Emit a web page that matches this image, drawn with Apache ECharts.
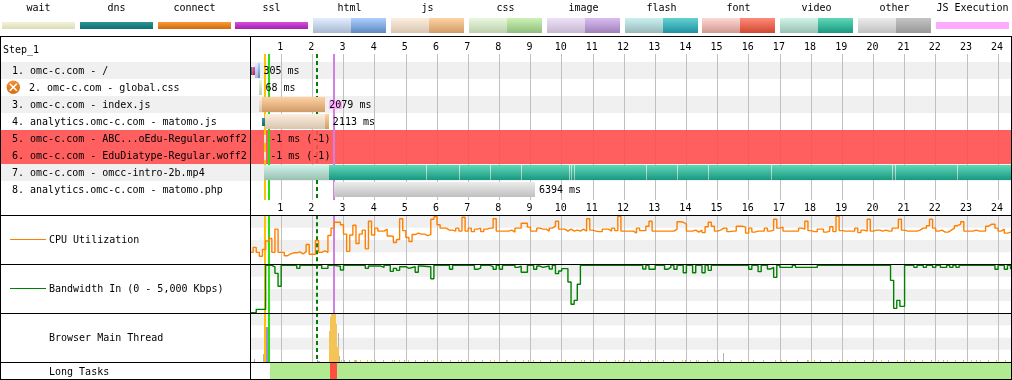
<!DOCTYPE html>
<html>
<head>
<meta charset="utf-8">
<title>Waterfall</title>
<style>
	html, body { margin: 0; padding: 0; background: #fff; }
	#chart { width: 1012px; height: 380px; }
</style>
<script src="https://cdn.jsdelivr.net/npm/echarts@6/dist/echarts.min.js"></script>
</head>
<body>
<div id="chart"></div>
<script>
const legendNames = [ 'wait', 'dns', 'connect', 'ssl', 'html', 'js', 'css', 'image', 'flash', 'font', 'video', 'other', 'JS Execution' ];
const rowLabels = [
	'1. omc-c.com - /',
	'2. omc-c.com - global.css',
	'3. omc-c.com - index.js',
	'4. analytics.omc-c.com - matomo.js',
	'5. omc-c.com - ABC...oEdu-Regular.woff2',
	'6. omc-c.com - EduDiatype-Regular.woff2',
	'7. omc-c.com - omcc-intro-2b.mp4',
	'8. analytics.omc-c.com - matomo.php'
];
const durationLabels = [ '305 ms', '68 ms', '2079 ms', '2113 ms', '-1 ms (-1)', '-1 ms (-1)', '', '6394 ms' ];
const failedRows = [ 4, 5 ];
const iconRows = [ 1 ];

// row, start (s), end (s), kind
const waterfallSegments = [
	[ 0, 0.03, 0.05, 'dns' ], [ 0, 0.05, 0.10, 'connect' ], [ 0, 0.10, 0.16, 'ssl' ],
	[ 0, 0.16, 0.27, 'htmlLight' ], [ 0, 0.27, 0.305, 'htmlDark' ],
	[ 1, 0.30, 0.37, 'cssLight' ],
	[ 2, 0.29, 0.38, 'jsLight' ], [ 2, 0.38, 2.415, 'jsDark' ], [ 2, 2.52, 2.95, 'jsExec' ],
	[ 3, 0.38, 0.47, 'dns' ], [ 3, 0.47, 2.415, 'jsLight' ], [ 3, 2.415, 2.53, 'jsDark' ],
	[ 4, 0.45, 0.52, 'wait' ],
	[ 5, 0.45, 0.52, 'wait' ],
	[ 6, 0.45, 2.53, 'videoLight' ], [ 6, 2.53, 24.42, 'videoDark' ],
	[ 7, 2.70, 9.14, 'otherLight' ]
];
const videoGapTimes = [ 5.66, 6.69, 7.69, 8.68, 10.22, 10.30, 10.39, 12.69, 13.69, 14.68, 16.7, 20.59, 20.68, 22.69 ];

// start render, dom interactive, dom complete, page load
const eventTimes = [ 0.46, 0.58, 2.12, 2.665 ];

// one sample every 100 ms
const cpuValues = [
	25, 35, 25, 17, 31, 48, 53, 25, 72, 25, 25, 18, 22, 24, 24, 26, 22, 26, 41, 21,
	21, 49, 25, 28, 25, 59, 74, 86, 86, 81, 62, 27, 60, 80, 43, 62, 70, 32, 88, 60,
	74, 68, 68, 72, 58, 57, 45, 51, 93, 69, 55, 47, 61, 64, 62, 62, 59, 61, 92, 97,
	81, 74, 74, 70, 70, 68, 74, 68, 96, 68, 74, 67, 72, 74, 67, 72, 74, 74, 93, 68,
	68, 68, 68, 70, 66, 74, 74, 84, 84, 76, 68, 68, 74, 72, 72, 68, 74, 78, 88, 72,
	72, 68, 72, 68, 70, 68, 72, 68, 93, 70, 68, 67, 67, 72, 72, 68, 74, 69, 98, 68,
	68, 68, 68, 64, 74, 69, 69, 78, 88, 68, 68, 68, 68, 68, 68, 68, 72, 87, 86, 82,
	68, 68, 70, 66, 70, 65, 77, 86, 78, 68, 70, 74, 74, 67, 68, 68, 78, 78, 76, 64,
	74, 66, 68, 68, 68, 74, 68, 70, 92, 74, 76, 68, 68, 68, 68, 68, 74, 72, 88, 69,
	67, 67, 72, 72, 66, 68, 77, 67, 98, 69, 68, 68, 68, 68, 74, 65, 70, 68, 92, 68,
	70, 70, 68, 70, 68, 68, 74, 74, 92, 70, 68, 68, 68, 68, 70, 74, 74, 79, 92, 74,
	68, 70, 66, 66, 70, 74, 79, 82, 87, 68, 68, 68, 70, 68, 68, 68, 78, 82, 82, 74,
	68, 72, 64, 66
];
const cpuSampleSeconds = 0.1;

// time (s) a new level starts, kbps
const bandwidthSteps = [
	[ 0, 30 ], [ 0.2, 380 ], [ 0.5, 4930 ], [ 0.7, 4760 ], [ 0.8, 4100 ], [ 0.9, 2760 ], [ 1.0, 4930 ],
	[ 1.5, 4620 ], [ 1.6, 4930 ], [ 2.3, 4620 ], [ 2.5, 4930 ], [ 2.7, 4830 ], [ 2.9, 4450 ], [ 3.0, 4930 ],
	[ 3.7, 4620 ], [ 3.8, 4860 ], [ 4.2, 4720 ], [ 4.3, 4930 ], [ 4.5, 4310 ], [ 4.6, 4620 ], [ 4.7, 4410 ],
	[ 4.8, 4790 ], [ 5.0, 4620 ], [ 5.1, 4790 ], [ 5.3, 4210 ], [ 5.4, 4860 ], [ 5.5, 4790 ], [ 5.8, 3550 ],
	[ 5.9, 4930 ], [ 6.4, 4520 ], [ 6.5, 4930 ], [ 7.2, 4520 ], [ 7.3, 4650 ], [ 7.4, 4930 ], [ 7.7, 4790 ],
	[ 7.8, 4520 ], [ 7.9, 4930 ], [ 8.0, 4520 ], [ 8.1, 4930 ], [ 8.5, 4720 ], [ 8.6, 4860 ], [ 8.7, 4210 ],
	[ 8.9, 4930 ], [ 9.1, 4520 ], [ 9.2, 4860 ], [ 9.3, 4720 ], [ 9.4, 4860 ], [ 9.6, 4550 ], [ 9.7, 4930 ],
	[ 9.8, 4070 ], [ 9.9, 4350 ], [ 10.0, 4590 ], [ 10.2, 3210 ], [ 10.3, 900 ], [ 10.4, 1310 ], [ 10.5, 2970 ],
	[ 10.6, 4930 ], [ 12.6, 4550 ], [ 12.7, 4930 ], [ 12.8, 4520 ], [ 13.0, 4930 ], [ 13.3, 4520 ], [ 13.4, 4720 ],
	[ 13.5, 4930 ], [ 13.6, 4520 ], [ 13.7, 4930 ], [ 13.9, 4170 ], [ 14.0, 4930 ], [ 14.2, 4170 ], [ 14.3, 4930 ],
	[ 14.5, 4170 ], [ 14.6, 4930 ], [ 14.7, 4410 ], [ 14.8, 4930 ], [ 16.0, 4520 ], [ 16.1, 4930 ], [ 16.3, 4280 ],
	[ 16.4, 4930 ], [ 16.6, 4550 ], [ 16.7, 4720 ], [ 16.8, 3690 ], [ 16.9, 4930 ], [ 17.0, 4720 ], [ 17.4, 4930 ],
	[ 17.5, 4720 ], [ 18.2, 4930 ], [ 20.55, 3380 ], [ 20.65, 480 ], [ 20.75, 1310 ], [ 20.85, 690 ], [ 21.0, 4930 ],
	[ 21.3, 4720 ], [ 21.4, 4930 ], [ 21.6, 4720 ], [ 21.7, 4930 ], [ 21.9, 4720 ], [ 22.0, 4930 ], [ 22.15, 4720 ],
	[ 22.35, 4930 ], [ 22.45, 4720 ], [ 22.55, 4930 ], [ 22.65, 4720 ], [ 22.75, 4930 ], [ 23.9, 4520 ], [ 24.0, 4930 ],
	[ 24.2, 4520 ], [ 24.3, 4930 ], [ 24.4, 4520 ]
];

// main thread, time (s), percent
const mainScripting = [
	[ 2.55, 63 ], [ 2.58, 92 ], [ 2.61, 99 ], [ 2.64, 100 ], [ 2.67, 100 ], [ 2.71, 100 ], [ 2.74, 100 ],
	[ 2.77, 77 ], [ 2.80, 31 ], [ 2.83, 30 ]
];
const mainScriptingTicks = [
	2.93, 3.34, 3.42, 3.53, 3.76, 3.89, 4.04, 4.56, 4.81, 5.08, 5.61, 5.88, 6.15, 6.68, 6.95, 7.21, 7.72, 7.85, 8.0, 8.26,
	8.53, 8.79, 9.08, 9.32, 9.86, 10.13, 10.4, 10.64, 10.93, 11.2, 11.44, 11.71, 11.82, 11.98, 12.27, 12.78, 13.06, 13.6,
	13.86, 14.13, 14.38, 14.91, 15.76, 16.0, 17.05, 17.21, 17.93, 18.11, 18.91, 19.18, 19.44, 19.96, 20.25, 20.78, 21.05,
	21.32, 21.56, 22.09, 22.38, 22.63, 22.9, 23.16, 23.43, 23.96, 24.23
];
const mainLayout = [ [ 0.16, 3 ], [ 0.529, 71 ], [ 0.561, 71 ], [ 2.15, 5 ] ];
const mainOther = [ [ 0.433, 16 ], [ 2.19, 3 ], [ 2.22, 3 ], [ 2.83, 29 ], [ 2.87, 12 ], [ 15.19, 18 ] ];
const mainOtherTicks = [
	0.16, 3.02, 3.19, 3.38, 4.27, 4.62, 4.97, 5.32, 5.69, 6.03, 6.42, 6.79, 7.47, 8.24, 8.93, 9.63, 10.73, 12.17, 12.52,
	12.9, 13.25, 13.97, 14.32, 14.67, 15.04, 15.42, 16.14, 16.49, 16.85, 17.57, 17.87, 18.29, 18.65, 19.73, 20.1, 20.49,
	21.19, 21.87, 22.26, 22.88, 23.32, 23.7
];
const mainTickPercent = 4;

// start (s), end (s), blocking
const longTasks = [ [ 0.64, 2.57, 0 ], [ 2.57, 2.79, 1 ], [ 2.79, 24.42, 0 ] ];

const panelLabels = [ 'CPU Utilization', 'Bandwidth In (0 - 5,000 Kbps)', 'Browser Main Thread', 'Long Tasks' ];

const FONT = '10px "DejaVu Sans Mono", monospace';
const TIME_MAX = 761 / 31.17;
const ROW_HEIGHT = 17;

const gradient = function ( top, bottom ) {
	return new echarts.graphic.LinearGradient( 0, 0, 0, 1, [
		{ offset: 0, color: top },
		{ offset: 1, color: bottom }
	] );
};

const kindColors = {
	wait: [ '#f2f2da', '#dcdcb8' ],
	dns: [ '#2c9494', '#0f6e70' ],
	connect: [ '#fa9a3a', '#d06a0a' ],
	ssl: [ '#d650dc', '#a422ac' ],
	htmlLight: [ '#e2eeff', '#a8b8d0' ],
	htmlDark: [ '#acd0ff', '#6088c0' ],
	jsLight: [ '#fdeede', '#d8c4b0' ],
	jsDark: [ '#ffd2a4', '#d09c68' ],
	cssLight: [ '#eaf8de', '#bccfae' ],
	cssDark: [ '#ccf2b4', '#8fbe7e' ],
	imageLight: [ '#eee2fa', '#c6b6d0' ],
	imageDark: [ '#dabcf2', '#a080b8' ],
	flashLight: [ '#caf2f2', '#98b8b8' ],
	flashDark: [ '#62d2d2', '#2090a0' ],
	fontLight: [ '#ffd8d2', '#d09890' ],
	fontDark: [ '#ff8a7a', '#d04830' ],
	videoLight: [ '#cff4ea', '#98c0b0' ],
	videoDark: [ '#60d8b8', '#189880' ],
	otherLight: [ '#ececec', '#c0c0c0' ],
	otherDark: [ '#c4c4c4', '#989898' ],
	jsExec: [ '#ffaaff', '#ffaaff' ]
};
const thinKinds = [ 'wait', 'dns', 'connect', 'ssl', 'jsExec' ];
const eventColors = [ '#ffc000', '#28e010', '#008000', '#d080e0' ];

// legend swatches across the top
const buildLegend = function () {
	const elements = [];
	legendNames.forEach( ( name, i ) => {
		const x = Math.round( 2 + i * 77.83 );
		const key = name === 'JS Execution' ? 'jsExec' : name;
		elements.push( {
			type: 'text',
			style: { x: x + 36.5, y: 8.5, text: name, font: FONT, fill: '#000', align: 'center', verticalAlign: 'middle' }
		} );
		if ( kindColors[ key ] ) {
			const c = kindColors[ key ];
			elements.push( {
				type: 'rect',
				shape: { x: x, y: 22, width: 73, height: 7 },
				style: { fill: gradient( c[ 0 ], c[ 1 ] ) }
			} );
		} else {
			const light = kindColors[ key + 'Light' ];
			const dark = kindColors[ key + 'Dark' ];
			elements.push( {
				type: 'rect',
				shape: { x: x, y: 18, width: 38, height: 15 },
				style: { fill: gradient( light[ 0 ], light[ 1 ] ) }
			} );
			elements.push( {
				type: 'rect',
				shape: { x: x + 38, y: 18, width: 35, height: 15 },
				style: { fill: gradient( dark[ 0 ], dark[ 1 ] ) }
			} );
		}
	} );
	return elements;
};

// frame lines, left hand labels, error icon
const buildFrame = function () {
	const bar = ( x, y, width, height, fill ) => ( {
		type: 'rect',
		z: 100,
		shape: { x: x, y: y, width: width, height: height },
		style: { fill: fill || '#000' }
	} );
	const label = ( text, x, y ) => ( {
		type: 'text',
		z: 100,
		style: { x: x, y: y, text: text, font: FONT, fill: '#000', verticalAlign: 'middle' }
	} );
	const panelY = [ 240.5, 289.5, 338.5, 372.5 ];
	const elements = [
		bar( 0, 36, 1012, 1 ),
		bar( 0, 215, 1012, 1 ),
		bar( 0, 264, 1012, 1 ),
		bar( 0, 313, 1012, 1 ),
		bar( 0, 362, 1012, 1 ),
		bar( 0, 379, 1012, 1 ),
		bar( 0, 36, 1, 344 ),
		bar( 250, 36, 1, 344 ),
		bar( 1011, 36, 1, 344 ),
		label( 'Step_1', 3, 50 ),
		bar( 10, 239, 36, 1, '#ff8000' ),
		bar( 10, 288, 36, 1, '#008000' )
	];
	panelLabels.forEach( ( text, i ) => elements.push( label( text, 49, panelY[ i ] ) ) );
	iconRows.forEach( ( row ) => {
		const cy = 62 + row * ROW_HEIGHT + 8.3;
		elements.push( {
			type: 'circle',
			z: 101,
			shape: { cx: 13.3, cy: cy, r: 6.7 },
			style: { fill: gradient( '#f09030', '#d86c10' ) }
		} );
		[ -1, 1 ].forEach( ( dir ) => {
			elements.push( {
				type: 'line',
				z: 102,
				shape: { x1: 9.8, y1: cy - 3.5 * dir, x2: 16.8, y2: cy + 3.5 * dir },
				style: { stroke: '#fff', lineWidth: 1.6 }
			} );
		} );
	} );
	return elements;
};

const barRect = function ( api, start, end, top, height, fill ) {
	const x0 = Math.round( api.coord( [ start, 0 ] )[ 0 ] );
	const x1 = Math.round( api.coord( [ end, 0 ] )[ 0 ] );
	return {
		type: 'rect',
		shape: { x: x0, y: top, width: Math.max( x1 - x0, 1 ), height: height },
		style: { fill: fill }
	};
};

const rowBackgroundItem = function ( params, api, fill ) {
	const top = Math.round( api.coord( [ 0, api.value( 1 ) ] )[ 1 ] );
	return {
		type: 'rect',
		shape: { x: 0, y: top, width: 1012, height: ROW_HEIGHT },
		style: { fill: fill }
	};
};

const segmentItem = function ( params, api ) {
	const segment = waterfallSegments[ params.dataIndex ];
	const top = Math.round( api.coord( [ 0, segment[ 0 ] ] )[ 1 ] );
	const c = kindColors[ segment[ 3 ] ];
	const thin = thinKinds.indexOf( segment[ 3 ] ) !== -1;
	return barRect( api, segment[ 1 ], segment[ 2 ], thin ? top + 5 : top + 1, thin ? 8 : 15, gradient( c[ 0 ], c[ 1 ] ) );
};

const videoGapItem = function ( params, api ) {
	const top = Math.round( api.coord( [ 0, 6 ] )[ 1 ] );
	const c = kindColors.videoLight;
	return barRect( api, api.value( 0 ), api.value( 0 ), top + 1, 15, gradient( c[ 0 ], c[ 1 ] ) );
};

const rowTextItem = function ( params, api ) {
	const row = params.dataIndex;
	const y = api.coord( [ 0, row ] )[ 1 ] + ROW_HEIGHT / 2 + 0.5;
	const barEnd = Math.max( ...waterfallSegments
		.filter( ( s ) => s[ 0 ] === row && s[ 3 ] !== 'jsExec' )
		.map( ( s ) => s[ 2 ] ) );
	const children = [ {
		type: 'text',
		style: {
			x: iconRows.indexOf( row ) !== -1 ? 29 : 12,
			y: y,
			text: rowLabels[ row ],
			font: FONT,
			fill: '#000',
			verticalAlign: 'middle'
		}
	} ];
	if ( durationLabels[ row ] ) {
		children.push( {
			type: 'text',
			style: {
				x: api.coord( [ barEnd, 0 ] )[ 0 ] + 4,
				y: y,
				text: durationLabels[ row ],
				font: FONT,
				fill: '#000',
				verticalAlign: 'middle'
			}
		} );
	}
	return { type: 'group', children: children };
};

const eventItem = function ( params, api ) {
	const box = params.coordSys;
	const index = api.value( 1 );
	const x = Math.round( api.coord( [ api.value( 0 ), 0 ] )[ 0 ] );
	if ( eventColors[ index ] === '#008000' ) {
		return {
			type: 'line',
			shape: { x1: x + 1, y1: box.y, x2: x + 1, y2: box.y + box.height },
			style: { stroke: eventColors[ index ], lineWidth: 2, lineDash: [ 4, 3 ] }
		};
	}
	return {
		type: 'rect',
		shape: { x: x, y: box.y, width: 2, height: box.height },
		style: { fill: eventColors[ index ] }
	};
};

const mainThreadColors = [ '#f5c456', '#9a8ee0', '#b4b4b4' ];
const mainThreadItem = function ( params, api ) {
	const x = Math.floor( api.coord( [ api.value( 0 ), 0 ] )[ 0 ] );
	const y0 = Math.round( api.coord( [ 0, api.value( 1 ) ] )[ 1 ] );
	const y1 = Math.round( api.coord( [ 0, api.value( 2 ) ] )[ 1 ] );
	return {
		type: 'rect',
		shape: { x: x, y: y1, width: 1, height: y0 - y1 },
		style: { fill: mainThreadColors[ api.value( 3 ) ] }
	};
};

const longTaskItem = function ( params, api ) {
	const box = params.coordSys;
	return barRect( api, api.value( 0 ), api.value( 1 ), box.y, box.height, api.value( 2 ) ? '#ff5040' : '#b2ea92' );
};

// stack the main thread samples, scripting first then layout then the rest
const buildMainThread = function () {
	const levels = {};
	const items = [];
	const add = ( list, kind ) => {
		list.forEach( ( point ) => {
			const key = Math.round( point[ 0 ] * 1000 );
			const base = levels[ key ] || 0;
			items.push( [ point[ 0 ], base, base + point[ 1 ], kind ] );
			levels[ key ] = base + point[ 1 ];
		} );
	};
	add( mainScripting, 0 );
	add( mainScriptingTicks.map( ( t ) => [ t, mainTickPercent ] ), 0 );
	add( mainLayout, 1 );
	add( mainOther, 2 );
	add( mainOtherTicks.map( ( t ) => [ t, mainTickPercent ] ), 2 );
	return items;
};

const panelAxis = function ( gridIndex, showLines ) {
	return {
		type: 'value',
		gridIndex: gridIndex,
		min: 0,
		max: TIME_MAX,
		interval: 1,
		z: 1,
		axisLine: { show: false },
		axisTick: { show: false },
		axisLabel: { show: false },
		splitLine: {
			show: showLines,
			showMinLine: false,
			showMaxLine: false,
			lineStyle: { color: '#c0c0c0', width: 1 }
		}
	};
};

const timeAxis = function ( position, showLines ) {
	const axis = panelAxis( 0, showLines );
	axis.position = position;
	axis.axisLabel = {
		show: true,
		showMinLabel: false,
		showMaxLabel: false,
		margin: position === 'top' ? 2 : 3,
		padding: [ 0, 2, 0, 0 ],
		fontFamily: '"DejaVu Sans Mono", monospace',
		fontSize: 10,
		color: '#000',
		hideOverlap: false,
		formatter: ( value ) => String( value )
	};
	return axis;
};

const bandAxis = function ( gridIndex, max ) {
	return {
		type: 'value',
		gridIndex: gridIndex,
		min: 0,
		max: max,
		interval: max / 4,
		axisLine: { show: false },
		axisTick: { show: false },
		axisLabel: { show: false },
		splitLine: { show: false },
		splitArea: { show: true, areaStyle: { color: [ '#ffffff', '#f0f0f0' ] } }
	};
};

const stepData = function ( points ) {
	const last = points[ points.length - 1 ];
	return points.concat( [ [ TIME_MAX, last[ 1 ] ] ] );
};

const eventData = eventTimes.map( ( t, i ) => [ t, i ] );

const eventSeries = function ( axisIndex ) {
	return {
		type: 'custom',
		xAxisIndex: axisIndex + 1,
		yAxisIndex: axisIndex,
		z: 2,
		silent: true,
		renderItem: eventItem,
		data: eventData
	};
};

const waterfallCustom = function ( z, renderItem, data ) {
	return {
		type: 'custom',
		xAxisIndex: 1,
		yAxisIndex: 0,
		z: z,
		silent: true,
		renderItem: renderItem,
		data: data
	};
};

const chart = echarts.init( document.getElementById( 'chart' ), null, { renderer: 'canvas' } );

chart.setOption( {
	animation: false,
	backgroundColor: '#fff',
	textStyle: { fontFamily: '"DejaVu Sans Mono", monospace', fontSize: 10 },
	graphic: { elements: buildLegend().concat( buildFrame() ) },
	grid: [
		{ left: 250, top: 54, width: 761, height: 146 },
		{ left: 250, top: 215.33, width: 761, height: 49.33 },
		{ left: 250, top: 264.67, width: 761, height: 48.33 },
		{ left: 250, top: 313, width: 761, height: 49 },
		{ left: 250, top: 363, width: 761, height: 16 }
	],
	xAxis: [
		timeAxis( 'top', false ),
		timeAxis( 'bottom', true ),
		panelAxis( 1, true ),
		panelAxis( 2, true ),
		panelAxis( 3, true ),
		panelAxis( 4, false )
	],
	yAxis: [
		{
			type: 'value',
			gridIndex: 0,
			inverse: true,
			min: -8 / ROW_HEIGHT,
			max: 8 + 2 / ROW_HEIGHT,
			axisLine: { show: false },
			axisTick: { show: false },
			axisLabel: { show: false },
			splitLine: { show: false }
		},
		bandAxis( 1, 100 ),
		bandAxis( 2, 5000 ),
		bandAxis( 3, 100 ),
		{
			type: 'value',
			gridIndex: 4,
			min: 0,
			max: 1,
			axisLine: { show: false },
			axisTick: { show: false },
			axisLabel: { show: false },
			splitLine: { show: false }
		}
	],
	series: [
		// striped rows go under the grid lines, failed rows over them
		waterfallCustom( 0, ( params, api ) => rowBackgroundItem( params, api, '#f0f0f0' ), [ 0, 2, 6 ].map( ( row ) => [ 0, row ] ) ),
		waterfallCustom( 2, eventItem, eventData.filter( ( e ) => eventColors[ e[ 1 ] ] === '#008000' ) ),
		waterfallCustom( 3, ( params, api ) => rowBackgroundItem( params, api, 'rgba(255, 78, 78, 0.9)' ), failedRows.map( ( row ) => [ 0, row ] ) ),
		waterfallCustom( 4, eventItem, eventData.filter( ( e ) => eventColors[ e[ 1 ] ] !== '#008000' ) ),
		waterfallCustom( 5, segmentItem, waterfallSegments.map( ( s ) => [ s[ 1 ], s[ 0 ] ] ) ),
		waterfallCustom( 6, videoGapItem, videoGapTimes.map( ( t ) => [ t, 6 ] ) ),
		waterfallCustom( 7, rowTextItem, rowLabels.map( ( label, row ) => [ 0, row ] ) ),
		eventSeries( 1 ),
		{
			type: 'line',
			xAxisIndex: 2,
			yAxisIndex: 1,
			step: 'end',
			showSymbol: false,
			silent: true,
			z: 3,
			lineStyle: { color: '#ff8000', width: 1.4 },
			data: stepData( cpuValues.map( ( v, i ) => [ i * cpuSampleSeconds, v ] ) )
		},
		eventSeries( 2 ),
		{
			type: 'line',
			xAxisIndex: 3,
			yAxisIndex: 2,
			step: 'end',
			showSymbol: false,
			silent: true,
			z: 3,
			lineStyle: { color: '#008000', width: 1.4 },
			data: stepData( bandwidthSteps )
		},
		eventSeries( 3 ),
		{
			// the peak sits over the page load line
			type: 'custom',
			xAxisIndex: 4,
			yAxisIndex: 3,
			z: 3,
			silent: true,
			renderItem: mainThreadItem,
			data: buildMainThread()
		},
		{
			type: 'custom',
			xAxisIndex: 5,
			yAxisIndex: 4,
			z: 2,
			silent: true,
			renderItem: longTaskItem,
			data: longTasks
		}
	]
} );
</script>
</body>
</html>
